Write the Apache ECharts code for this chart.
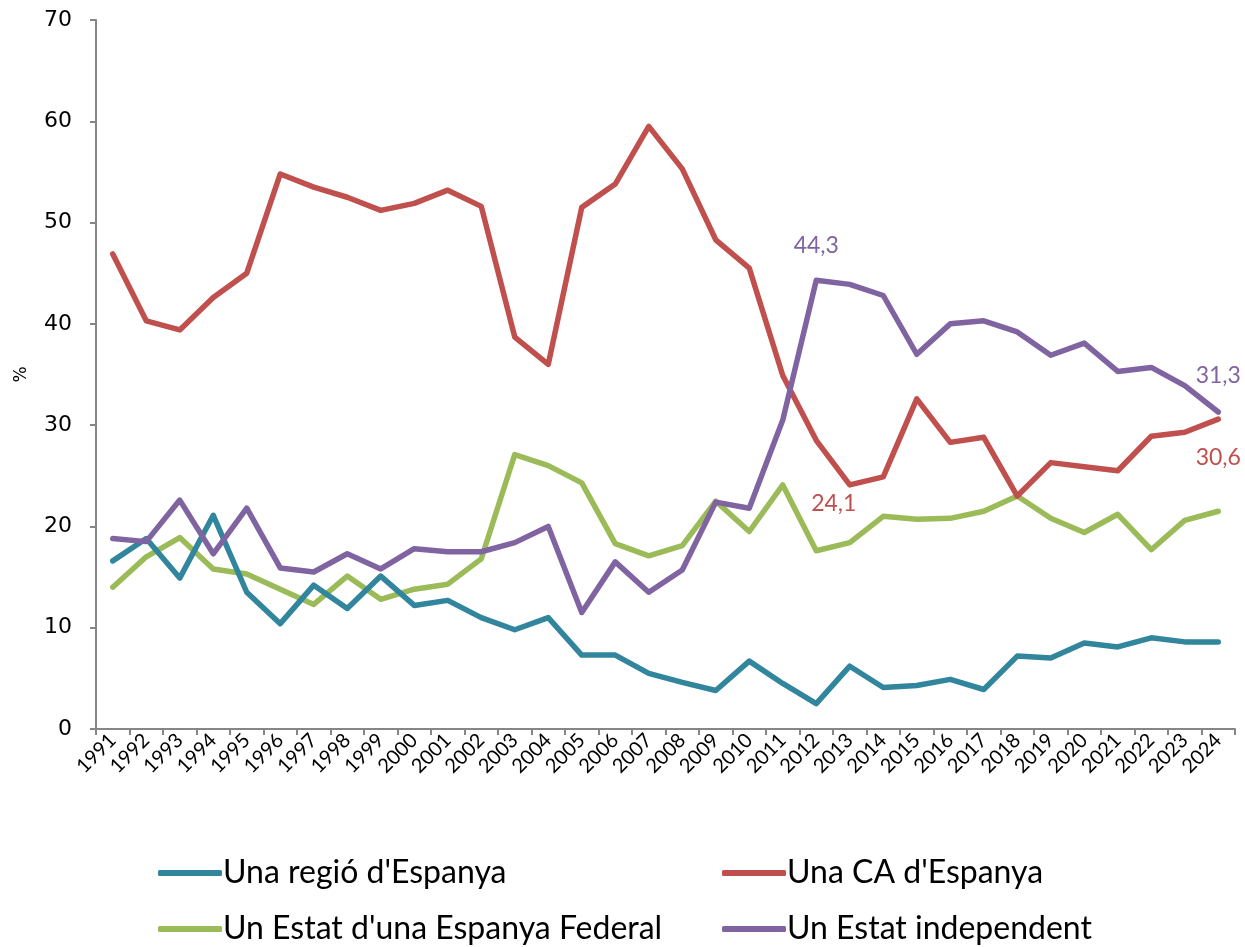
<!DOCTYPE html>
<html>
<head>
<meta charset="utf-8">
<script src="https://cdn.jsdelivr.net/npm/echarts@6/dist/echarts.min.js"></script>
<style>
  html, body { margin: 0; padding: 0; background: #fff; }
  #chart { width: 1245px; height: 947px; }
</style>
</head>
<body>
<div id="chart"></div>
<script>
// categories
var years = ['1991','1992','1993','1994','1995','1996','1997','1998','1999','2000','2001','2002','2003','2004','2005','2006','2007','2008','2009','2010','2011','2012','2013','2014','2015','2016','2017','2018','2019','2020','2021','2022','2023','2024'];

// series values (%)
var regio = [16.6,18.8,14.9,21.1,13.5,10.4,14.2,11.9,15.1,12.2,12.7,11.0,9.8,11.0,7.3,7.3,5.5,4.6,3.8,6.7,4.5,2.5,6.2,4.1,4.3,4.9,3.9,7.2,7.0,8.5,8.1,9.0,8.6,8.6];
var ca = [46.9,40.3,39.4,42.6,45.0,54.8,53.5,52.5,51.2,51.9,53.2,51.6,38.7,36.0,51.5,53.8,59.5,55.3,48.3,45.5,34.9,28.5,24.1,24.9,32.6,28.3,28.8,23.0,26.3,25.9,25.5,28.9,29.3,30.6];
var federal = [14.0,17.0,18.9,15.8,15.3,13.8,12.3,15.1,12.8,13.8,14.3,16.8,27.1,26.0,24.3,18.3,17.1,18.1,22.5,19.5,24.1,17.6,18.4,21.0,20.7,20.8,21.5,23.0,20.8,19.4,21.2,17.7,20.6,21.5];
var independent = [18.8,18.5,22.6,17.3,21.8,15.9,15.5,17.3,15.8,17.8,17.5,17.5,18.4,20.0,11.5,16.5,13.5,15.7,22.4,21.8,30.5,44.3,43.9,42.8,37.0,40.0,40.3,39.2,36.9,38.1,35.3,35.7,33.9,31.3];

var names = ["Una regió d'Espanya", "Una CA d'Espanya", "Un Estat d'una Espanya Federal", "Un Estat independent"];
var colors = ['#31859C', '#C0504D', '#9BBB59', '#8064A2'];

// y ticks
var yMin = 0, yMax = 70, yStep = 10;

function fmt(v) { return String(v).replace('.', ','); }

// labelled points: index -> label placement
function withLabels(values, color, marks) {
  return values.map(function (v, i) {
    if (!marks[i]) return v;
    return {
      value: v,
      label: Object.assign({
        show: true,
        color: color,
        fontSize: 23,
        fontFamily: 'Lato',
        formatter: function (p) { return fmt(p.value); }
      }, marks[i])
    };
  });
}

var caMarks = {};
caMarks[22] = { position: 'bottom', offset: [-16, 2] };
caMarks[33] = { position: 'bottom', offset: [0, 22] };
var indMarks = {};
indMarks[21] = { position: 'top', offset: [0, -18] };
indMarks[33] = { position: 'top', offset: [0, -20] };

var seriesData = [
  regio,
  withLabels(ca, colors[1], caMarks),
  federal,
  withLabels(independent, colors[3], indMarks)
];

var legendPos = [
  { left: 153, top: 852 },
  { left: 717, top: 852 },
  { left: 153, top: 908 },
  { left: 717, top: 908 }
];

var chart = echarts.init(document.getElementById('chart'));

var option = {
  animation: false,
  color: colors,
  grid: { left: 96, right: 10, top: 20, bottom: 218, containLabel: false },
  legend: names.map(function (n, i) {
    return {
      data: [n],
      left: legendPos[i].left,
      top: legendPos[i].top,
      icon: 'roundRect',
      itemWidth: 64,
      itemHeight: 6,
      itemGap: 0,
      textStyle: { fontSize: 32, fontFamily: 'Lato', color: '#000', padding: [0, 0, 0, -4] }
    };
  }),
  xAxis: {
    type: 'category',
    data: years,
    boundaryGap: true,
    axisLine: { lineStyle: { color: '#868686', width: 2 } },
    axisTick: { show: true, alignWithLabel: false, length: 6, lineStyle: { color: '#868686', width: 2 } },
    axisLabel: { interval: 0, rotate: 45, fontSize: 20, fontFamily: 'Lato', color: '#000', margin: 8 }
  },
  yAxis: {
    type: 'value',
    min: yMin,
    max: yMax,
    interval: yStep,
    name: '%',
    nameLocation: 'middle',
    nameRotate: 90,
    nameGap: 66,
    nameTextStyle: { fontSize: 17, fontFamily: 'DejaVu Sans', color: '#000' },
    axisLine: { show: true, lineStyle: { color: '#868686', width: 2 } },
    axisTick: { show: true, length: 6, lineStyle: { color: '#868686', width: 2 } },
    axisLabel: { fontSize: 22, fontFamily: 'DejaVu Sans', color: '#000', margin: 24 },
    splitLine: { show: false }
  },
  series: names.map(function (n, i) {
    return {
      name: n,
      type: 'line',
      data: seriesData[i],
      symbol: 'circle',
      symbolSize: 0,
      showSymbol: true,
      lineStyle: { width: 5.5, color: colors[i], cap: 'round', join: 'round' },
      itemStyle: { color: colors[i] },
      z: i === 3 ? 4 : 3 - i
    };
  })
};

chart.setOption(option);
</script>
</body>
</html>
